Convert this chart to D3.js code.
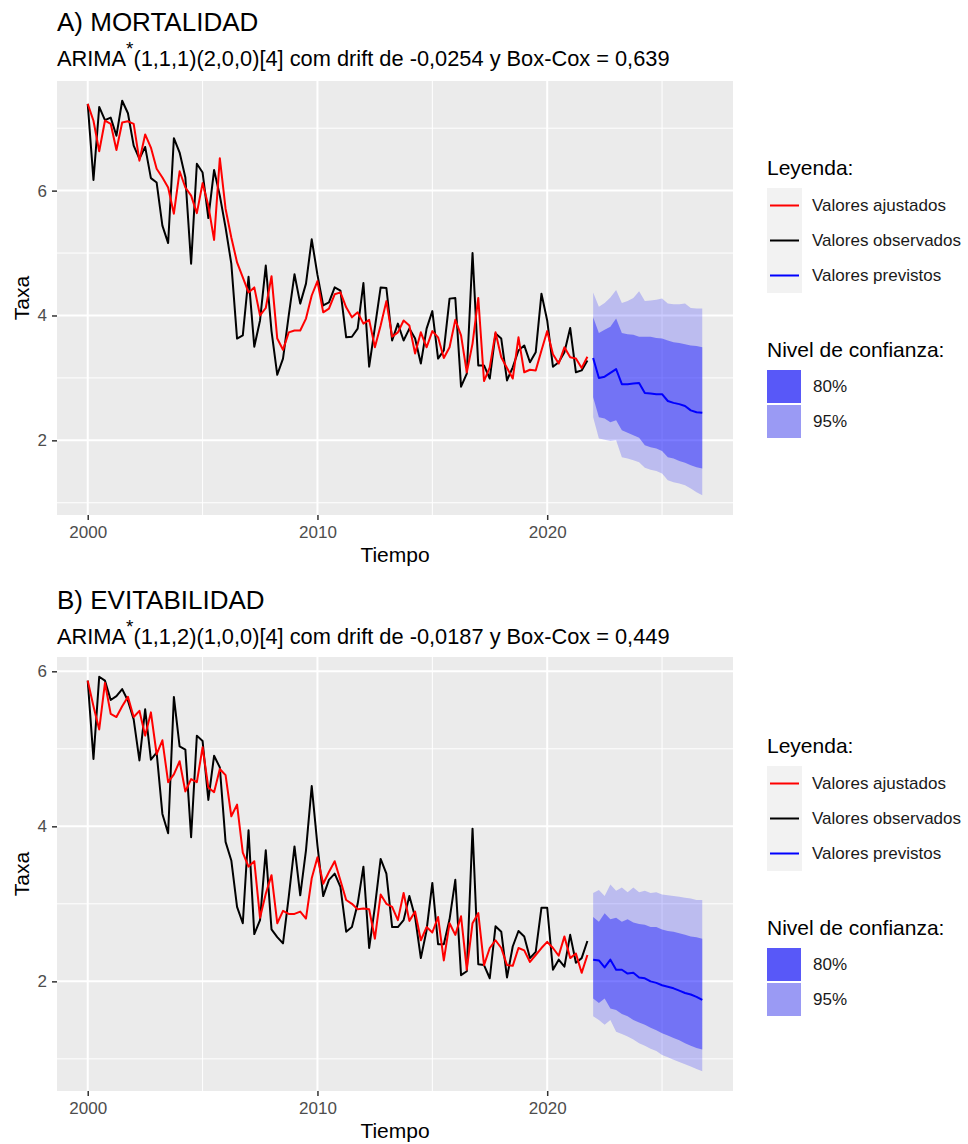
<!DOCTYPE html>
<html>
<head>
<meta charset="utf-8">
<script src="https://cdn.jsdelivr.net/npm/d3@7"></script>
<style>
  body { margin: 0; background: #fff; }
  text { font-family: "Liberation Sans", Arial, Helvetica, sans-serif; }
</style>
</head>
<body>
<script>
// quarterly series, first value = 2000 Q1
const START_OBS = 2000;
const START_FC = 2022;

// A) MORTALIDAD
const mortObs = [7.39,6.17,7.34,7.13,7.17,6.88,7.44,7.24,6.72,6.51,6.70,6.20,6.13,5.44,5.16,6.84,6.61,6.21,4.83,6.43,
  6.29,5.56,6.33,5.92,5.41,4.83,3.63,3.68,4.62,3.50,3.92,4.80,3.75,3.05,3.31,4.00,4.66,4.19,4.51,5.22,
  4.65,4.16,4.21,4.45,4.40,3.65,3.66,3.79,4.52,3.18,3.81,4.45,4.44,3.60,3.87,3.60,3.79,3.63,3.23,3.79,
  4.07,3.31,3.44,4.27,4.28,2.86,3.07,5.00,3.20,3.20,2.99,3.71,3.63,2.96,3.17,3.44,3.52,3.25,3.41,4.35,
  3.92,3.18,3.25,3.41,3.80,3.09,3.12,3.28];
const mortFit = [7.39,7.12,6.63,7.12,7.07,6.65,7.09,7.11,7.07,6.48,6.90,6.69,6.35,6.21,6.05,5.63,6.31,6.05,5.92,5.64,
  6.12,5.76,5.21,6.52,5.71,5.25,4.85,4.61,4.37,4.45,4.00,4.12,4.63,3.63,3.45,3.73,3.76,3.76,3.95,4.32,
  4.55,4.05,4.11,4.34,4.37,4.13,3.97,4.05,3.87,3.93,3.49,3.84,4.23,3.66,3.73,3.92,3.84,3.39,3.73,3.49,
  3.75,3.65,3.32,3.49,3.93,3.68,3.09,3.55,4.28,2.95,3.17,3.73,3.33,3.16,2.99,3.65,3.09,3.13,3.12,3.44,
  3.75,3.38,3.23,3.49,3.33,3.31,3.16,3.34];
const mortFc   = [3.32,3.00,3.02,3.08,3.14,2.90,2.90,2.91,2.92,2.76,2.75,2.74,2.74,2.63,2.60,2.58,2.55,2.48,2.45,2.44];
const mortHi80 = [3.97,3.72,3.77,3.82,3.95,3.72,3.70,3.69,3.66,3.66,3.66,3.64,3.63,3.60,3.57,3.56,3.54,3.52,3.51,3.49];
const mortLo80 = [2.69,2.37,2.35,2.29,2.32,2.16,2.12,2.08,2.04,1.92,1.89,1.87,1.83,1.73,1.71,1.67,1.64,1.60,1.57,1.55];
const mortHi95 = [4.37,4.14,4.20,4.29,4.41,4.20,4.23,4.28,4.39,4.23,4.24,4.25,4.27,4.19,4.18,4.18,4.19,4.12,4.11,4.11];
const mortLo95 = [2.37,2.03,2.01,1.99,2.00,1.73,1.71,1.68,1.65,1.56,1.53,1.51,1.47,1.36,1.33,1.31,1.28,1.23,1.17,1.12];

// B) EVITABILIDAD
const evitObs = [5.88,4.87,5.93,5.88,5.63,5.68,5.77,5.62,5.38,4.85,5.51,4.86,4.95,4.16,3.91,5.67,5.03,4.99,3.86,5.17,
  5.10,4.34,4.91,4.76,3.80,3.56,2.96,2.75,3.95,2.61,2.79,3.69,2.67,2.57,2.49,3.09,3.74,3.11,3.69,4.52,
  3.75,3.10,3.31,3.39,3.22,2.64,2.70,3.00,3.48,2.43,2.96,3.58,3.39,2.70,2.70,2.79,3.10,2.83,2.30,2.66,
  3.27,2.48,2.48,2.80,3.31,2.08,2.13,3.97,2.22,2.21,2.04,2.71,2.64,2.05,2.45,2.65,2.58,2.30,2.38,2.95,
  2.95,2.15,2.28,2.19,2.60,2.24,2.30,2.52];
const evitFit = [5.88,5.55,5.25,5.85,5.45,5.41,5.55,5.67,5.41,5.49,5.17,5.47,4.93,5.11,4.57,4.67,4.84,4.45,4.61,4.57,
  5.02,4.50,4.44,4.74,4.66,4.13,4.28,3.66,3.48,3.55,2.82,3.13,3.37,2.75,2.91,2.87,2.87,2.90,2.81,3.33,
  3.60,3.26,3.41,3.55,3.30,3.05,3.00,2.93,2.94,2.93,2.55,3.12,3.00,2.96,2.79,3.14,2.78,2.90,2.53,2.70,
  2.63,2.83,2.27,2.75,2.60,2.84,2.15,2.75,2.88,2.21,2.43,2.53,2.43,2.21,2.20,2.43,2.40,2.25,2.34,2.43,
  2.51,2.43,2.33,2.58,2.30,2.36,2.11,2.34];
const evitFc   = [2.28,2.27,2.18,2.28,2.15,2.15,2.10,2.11,2.05,2.04,2.00,1.98,1.95,1.93,1.91,1.88,1.85,1.83,1.80,1.76];
const evitHi80 = [2.83,2.77,2.88,2.80,2.82,2.77,2.80,2.76,2.74,2.73,2.70,2.70,2.67,2.65,2.64,2.62,2.60,2.58,2.57,2.55];
const evitLo80 = [1.78,1.72,1.78,1.65,1.63,1.58,1.55,1.50,1.47,1.44,1.40,1.37,1.33,1.30,1.27,1.24,1.20,1.17,1.14,1.12];
const evitHi95 = [3.14,3.18,3.10,3.25,3.17,3.21,3.15,3.21,3.15,3.17,3.14,3.15,3.12,3.11,3.10,3.09,3.08,3.07,3.05,3.05];
const evitLo95 = [1.55,1.50,1.44,1.50,1.35,1.32,1.29,1.25,1.20,1.17,1.13,1.10,1.05,1.02,0.99,0.96,0.93,0.90,0.87,0.84];

const xMajor = [2000, 2010, 2020];
const xMinor = [2005, 2015, 2025];
const yMajor = [2, 4, 6];
const yMinor = [1, 3, 5, 7];
const legendLines = ["Valores ajustados", "Valores observados", "Valores previstos"];
const legendLevels = ["80%", "95%"];

const panels = [
  { title: "A) MORTALIDAD", model: "(1,1,1)(2,0,0)[4] com drift de -0,0254 y Box-Cox = 0,639",
    obs: mortObs, fit: mortFit, fc: mortFc, lo80: mortLo80, hi80: mortHi80, lo95: mortLo95, hi95: mortHi95,
    off: 0, top: 81, bottom: 515 },
  { title: "B) EVITABILIDAD", model: "(1,1,2)(1,0,0)[4] com drift de -0,0187 y Box-Cox = 0,449",
    obs: evitObs, fit: evitFit, fc: evitFc, lo80: evitLo80, hi80: evitHi80, lo95: evitLo95, hi95: evitHi95,
    off: 578, top: 657, bottom: 1091 }
];

const W = 968, H = 1144;
const LEFT = 57, RIGHT = 733;

const svg = d3.select("body").append("svg").attr("width", W).attr("height", H);

// ggplot style 5% expansion
function expand(lo, hi) {
  const e = (hi - lo) * 0.05;
  return [lo - e, hi + e];
}

panels.forEach(function (p) {
  const obs = p.obs.map((v, i) => ({ t: START_OBS + i / 4, v: v }));
  const fit = p.fit.map((v, i) => ({ t: START_OBS + i / 4, v: v }));
  const fc = p.fc.map((v, i) => ({
    t: START_FC + i / 4, v: v, lo80: p.lo80[i], hi80: p.hi80[i], lo95: p.lo95[i], hi95: p.hi95[i]
  }));

  const tExt = [obs[0].t, fc[fc.length - 1].t];
  const allV = p.obs.concat(p.fit, p.lo95, p.hi95);
  const x = d3.scaleLinear().domain(expand(tExt[0], tExt[1])).range([LEFT, RIGHT]);
  const y = d3.scaleLinear().domain(expand(d3.min(allV), d3.max(allV))).range([p.bottom, p.top]);

  const g = svg.append("g");

  // panel background + grid
  g.append("rect").attr("x", LEFT).attr("y", p.top)
    .attr("width", RIGHT - LEFT).attr("height", p.bottom - p.top).attr("fill", "#EBEBEB");

  const yd = y.domain();
  g.selectAll(".ymin").data(yMinor.filter(v => v > yd[0] && v < yd[1])).enter().append("line")
    .attr("x1", LEFT).attr("x2", RIGHT).attr("y1", d => y(d)).attr("y2", d => y(d))
    .attr("stroke", "#fff").attr("stroke-width", 1);
  g.selectAll(".xmin").data(xMinor).enter().append("line")
    .attr("y1", p.top).attr("y2", p.bottom).attr("x1", d => x(d)).attr("x2", d => x(d))
    .attr("stroke", "#fff").attr("stroke-width", 1);
  g.selectAll(".ymaj").data(yMajor).enter().append("line")
    .attr("x1", LEFT).attr("x2", RIGHT).attr("y1", d => y(d)).attr("y2", d => y(d))
    .attr("stroke", "#fff").attr("stroke-width", 2);
  g.selectAll(".xmaj").data(xMajor).enter().append("line")
    .attr("y1", p.top).attr("y2", p.bottom).attr("x1", d => x(d)).attr("x2", d => x(d))
    .attr("stroke", "#fff").attr("stroke-width", 2);

  const line = d3.line().x(d => x(d.t)).y(d => y(d.v));

  g.append("path").datum(obs).attr("d", line)
    .attr("fill", "none").attr("stroke", "#000").attr("stroke-width", 2).attr("stroke-linejoin", "round");
  g.append("path").datum(fit).attr("d", line)
    .attr("fill", "none").attr("stroke", "#FF0000").attr("stroke-width", 2).attr("stroke-linejoin", "round");

  // prediction intervals
  g.append("path").datum(fc)
    .attr("d", d3.area().x(d => x(d.t)).y0(d => y(d.lo95)).y1(d => y(d.hi95)))
    .attr("fill", "#0000FF").attr("fill-opacity", 0.2);
  g.append("path").datum(fc)
    .attr("d", d3.area().x(d => x(d.t)).y0(d => y(d.lo80)).y1(d => y(d.hi80)))
    .attr("fill", "#0000FF").attr("fill-opacity", 0.39);
  g.append("path").datum(fc).attr("d", line)
    .attr("fill", "none").attr("stroke", "#0000FF").attr("stroke-width", 2).attr("stroke-linejoin", "round");

  // axes
  const xAxis = g.append("g").attr("transform", "translate(0," + p.bottom + ")")
    .call(d3.axisBottom(x).tickValues(xMajor).tickFormat(d3.format("d")).tickSize(5).tickPadding(6));
  const yAxis = g.append("g").attr("transform", "translate(" + LEFT + ",0)")
    .call(d3.axisLeft(y).tickValues(yMajor).tickFormat(d3.format("d")).tickSize(5).tickPadding(5));
  [xAxis, yAxis].forEach(a => {
    a.select(".domain").remove();
    a.selectAll(".tick line").attr("stroke", "#333333").attr("stroke-width", 1.5);
    a.selectAll(".tick text").attr("fill", "#4D4D4D").style("font-size", "17px")
      .style("font-family", "'Liberation Sans', Arial, sans-serif");
  });

  g.append("text").attr("x", (LEFT + RIGHT) / 2).attr("y", p.bottom + 47)
    .attr("text-anchor", "middle").style("font-size", "21px").text("Tiempo");
  g.append("text")
    .attr("transform", "translate(29," + (p.top + p.bottom) / 2 + ") rotate(-90)")
    .attr("text-anchor", "middle").style("font-size", "21px").text("Taxa");

  // titles
  g.append("text").attr("x", LEFT).attr("y", 31 + p.off)
    .style("font-size", "26px").text(p.title);
  const sub = g.append("text").attr("x", LEFT).attr("y", 66 + p.off).style("font-size", "21.8px");
  sub.append("tspan").text("ARIMA");
  sub.append("tspan").attr("dx", 0).attr("dy", -11).style("font-size", "19px").text("*");
  sub.append("tspan").attr("dx", 0).attr("dy", 11).text(p.model);

  // legend
  const lg = g.append("g").attr("transform", "translate(767," + p.off + ")");
  lg.append("text").attr("x", 0).attr("y", 175).style("font-size", "21px").text("Leyenda:");
  lg.append("rect").attr("x", 0).attr("y", 188).attr("width", 35).attr("height", 105).attr("fill", "#F2F2F2");
  const lineColors = ["#FF0000", "#000000", "#0000FF"];
  lg.selectAll(".lk").data(legendLines).enter().append("line")
    .attr("x1", 3).attr("x2", 32)
    .attr("y1", (d, i) => 205.5 + i * 35).attr("y2", (d, i) => 205.5 + i * 35)
    .attr("stroke", (d, i) => lineColors[i]).attr("stroke-width", 2);
  lg.selectAll(".lt").data(legendLines).enter().append("text")
    .attr("x", 45).attr("y", (d, i) => 205.5 + i * 35).attr("dy", "0.35em")
    .style("font-size", "17px").attr("fill", "#1a1a1a").text(d => d);

  lg.append("text").attr("x", 0).attr("y", 357).style("font-size", "21px").text("Nivel de confianza:");
  const fillColors = ["#5858F8", "#9A9AF4"];
  lg.selectAll(".fk").data(legendLevels).enter().append("rect")
    .attr("x", 0).attr("y", (d, i) => 370 + i * 35).attr("width", 34).attr("height", 33)
    .attr("fill", (d, i) => fillColors[i]);
  lg.selectAll(".ft").data(legendLevels).enter().append("text")
    .attr("x", 46).attr("y", (d, i) => 386.5 + i * 35).attr("dy", "0.35em")
    .style("font-size", "17px").attr("fill", "#1a1a1a").text(d => d);
});
</script>
</body>
</html>
